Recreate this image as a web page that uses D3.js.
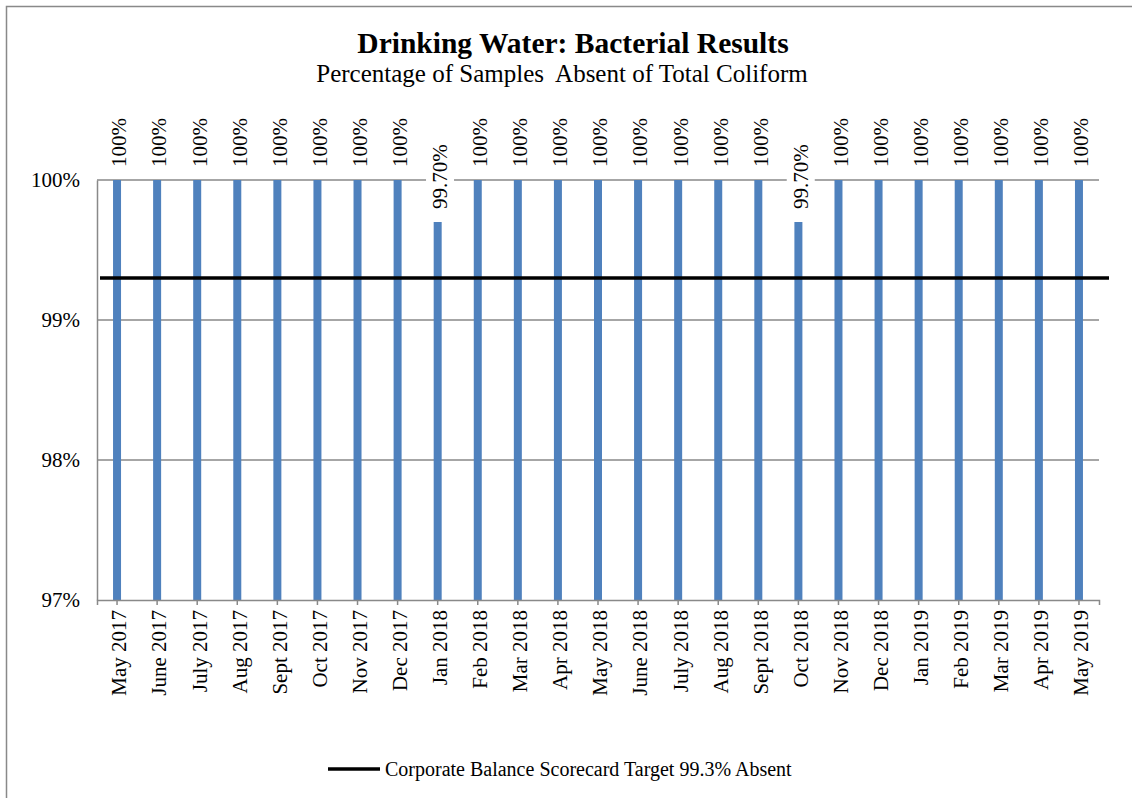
<!DOCTYPE html>
<html>
<head>
<meta charset="utf-8">
<script src="https://cdn.jsdelivr.net/npm/d3@7"></script>
<style>
  body { margin: 0; background: #fff; }
  svg { display: block; }
  svg text { font-family: "Times New Roman", "Liberation Serif", serif; }
</style>
</head>
<body>
<svg id="chart"></svg>
<script>
// data
const months = [
  "May 2017", "June 2017", "July 2017", "Aug 2017", "Sept 2017", "Oct 2017",
  "Nov 2017", "Dec 2017", "Jan 2018", "Feb 2018", "Mar 2018", "Apr 2018",
  "May 2018", "June 2018", "July 2018", "Aug 2018", "Sept 2018", "Oct 2018",
  "Nov 2018", "Dec 2018", "Jan 2019", "Feb 2019", "Mar 2019", "Apr 2019", "May 2019"
];
const absentPct = [
  100, 100, 100, 100, 100, 100, 100, 100, 99.7, 100, 100, 100,
  100, 100, 100, 100, 100, 99.7, 100, 100, 100, 100, 100, 100, 100
];
const yTicks = [97, 98, 99, 100];
const target = 99.3;
const targetLabel = "Corporate Balance Scorecard Target 99.3% Absent";

// setting up svg
const w = 1132, h = 798;
const svg = d3.select("#chart").attr("width", w).attr("height", h);
const gridColor = "#898989";
const barColor = "#4F81BD";

// chart border (runs off the right/bottom of the picture)
svg.append("rect")
  .attr("x", 6.5).attr("y", 6.5)
  .attr("width", 1200).attr("height", 900)
  .attr("fill", "none")
  .attr("stroke", gridColor)
  .attr("stroke-width", 1.5);

// scales
const x = d3.scaleBand().domain(months).range([97, 1099]);
const y = d3.scaleLinear().domain([97, 100]).range([600, 180]);

// titles
svg.append("text")
  .attr("x", 573).attr("y", 53)
  .attr("text-anchor", "middle")
  .style("font-size", "29.5px").style("font-weight", "bold")
  .text("Drinking Water: Bacterial Results");
svg.append("text")
  .attr("x", 562).attr("y", 82)
  .attr("text-anchor", "middle")
  .style("font-size", "25px")
  .text("Percentage of Samples  Absent of Total Coliform")
  .style("white-space", "pre");

// gridlines
svg.append("g")
  .selectAll("line")
  .data(yTicks.filter(d => d > 97))
  .join("line")
    .attr("x1", x.range()[0]).attr("x2", x.range()[1])
    .attr("y1", d => y(d)).attr("y2", d => y(d))
    .attr("stroke", gridColor).attr("stroke-width", 1.5);

// y axis
const yAxis = svg.append("g")
  .attr("transform", `translate(${x.range()[0]},0)`)
  .call(d3.axisLeft(y).tickValues(yTicks).tickSize(0).tickPadding(17)
    .tickFormat(d => d + "%"))
  .attr("font-family", null).attr("font-size", null);
yAxis.select(".domain").attr("stroke", gridColor).attr("stroke-width", 1.5);
yAxis.selectAll("text").style("font-size", "21px").attr("fill", "#000");

// bars
const barW = 8;
svg.append("g")
  .selectAll("rect")
  .data(absentPct)
  .join("rect")
    .attr("x", (d, i) => x(months[i]) + x.bandwidth() / 2 - barW / 2)
    .attr("y", d => y(d))
    .attr("width", barW)
    .attr("height", d => y.range()[0] - y(d))
    .attr("fill", barColor);

// x axis
const xAxis = svg.append("g")
  .attr("transform", `translate(0,${y.range()[0]})`)
  .call(d3.axisBottom(x).tickSizeInner(5).tickSizeOuter(5))
  .attr("font-family", null).attr("font-size", null);
xAxis.select(".domain").attr("stroke", gridColor).attr("stroke-width", 1.5);
xAxis.selectAll(".tick line").attr("stroke", gridColor).attr("stroke-width", 1.5);
xAxis.selectAll("text")
  .attr("fill", "#000")
  .style("font-size", "21px")
  .attr("text-anchor", "end")
  .attr("transform", "rotate(-90)")
  .attr("x", -10).attr("y", 2).attr("dy", "0.35em");

// target line
svg.append("line")
  .attr("x1", x.range()[0] + 3).attr("x2", x.range()[1] + 10)
  .attr("y1", y(target)).attr("y2", y(target))
  .attr("stroke", "#000").attr("stroke-width", 3.5);

// value labels with white background
const fmt = d => d === 100 ? "100%" : d.toFixed(2) + "%";
const labels = svg.append("g")
  .selectAll("g")
  .data(absentPct)
  .join("g")
    .attr("transform", (d, i) =>
      `translate(${x(months[i]) + x.bandwidth() / 2 + 2},${y(d) - 13}) rotate(-90)`);
labels.append("text")
  .attr("dy", "0.35em")
  .style("font-size", "21px")
  .text(fmt);
labels.each(function () {
  const g = d3.select(this);
  const bb = g.select("text").node().getBBox();
  g.insert("rect", "text")
    .attr("x", bb.x - 3).attr("y", bb.y - 2)
    .attr("width", bb.width + 6).attr("height", bb.height + 4)
    .attr("fill", "#fff");
});

// legend
const legend = svg.append("g").attr("transform", "translate(328,769)");
legend.append("line")
  .attr("x1", 0).attr("x2", 52)
  .attr("stroke", "#000").attr("stroke-width", 3.5);
legend.append("text")
  .attr("x", 57).attr("dy", "0.35em")
  .style("font-size", "20px")
  .text(targetLabel);
</script>
</body>
</html>
